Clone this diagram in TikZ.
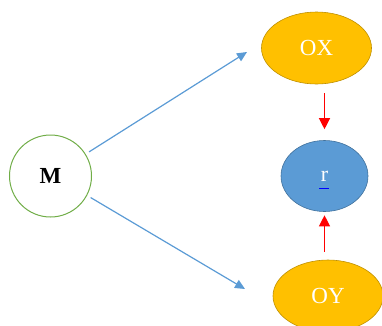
\documentclass[tikz,border=0pt]{standalone}
\usepackage{fontspec}
\setmainfont{Liberation Serif}
\usetikzlibrary{shapes.geometric,arrows.meta}
\definecolor{goldfill}{HTML}{FFC000}
\definecolor{golddraw}{HTML}{BF9000}
\definecolor{bluefill}{HTML}{5B9BD5}
\definecolor{bluedraw}{HTML}{41719C}
\definecolor{greendraw}{HTML}{70AD47}
\definecolor{bluearrow}{HTML}{5B9BD5}
\tikzset{
  gold/.style={ellipse, draw=golddraw, fill=goldfill, line width=0.6pt, minimum width=110pt, minimum height=72pt, inner sep=0pt, text=white, font=\fontsize{23}{26}\selectfont},
  bluenode/.style={ellipse, draw=bluedraw, fill=bluefill, line width=0.6pt, minimum width=87pt, minimum height=71pt, inner sep=0pt, text=white, font=\fontsize{22}{24}\selectfont},
  mnode/.style={circle, draw=greendraw, fill=white, line width=1pt, minimum size=82pt, inner sep=0pt, font=\fontsize{23}{26}\selectfont\bfseries},
  barrow/.style={draw=bluearrow, line width=1.2pt, -{Triangle[length=10pt,width=9pt]}},
  rarrow/.style={draw=red, line width=1.2pt, -{Triangle[length=11pt,width=11pt]}}
}
\begin{document}
\begin{tikzpicture}[x=1pt,y=-1pt]
\useasboundingbox (0,0) rectangle (382,325);
\node[mnode] (M) at (50.5,176) {M};
\node[gold] (OX) at (316.5,48) {OX};
\node[bluenode] (R) at (324.5,176) {r};
\node[gold] (OY) at (328,296) {OY};
\coordinate (a1e) at (247,52);
\coordinate (a2e) at (245,289);
\draw[barrow, shorten <=4pt] (M.32) -- (a1e);
\draw[barrow, shorten <=4pt] (M.-28) -- (a2e);
\draw[rarrow, shorten <=9pt, shorten >=11pt] (R.north |- OX.south) -- (R.north);
\draw[rarrow, shorten <=8pt, shorten >=3.5pt] (R.south |- OY.north) -- (R.south);
\draw[blue, line width=0.8pt] (319,188) -- (329,188);
\end{tikzpicture}
\end{document}
